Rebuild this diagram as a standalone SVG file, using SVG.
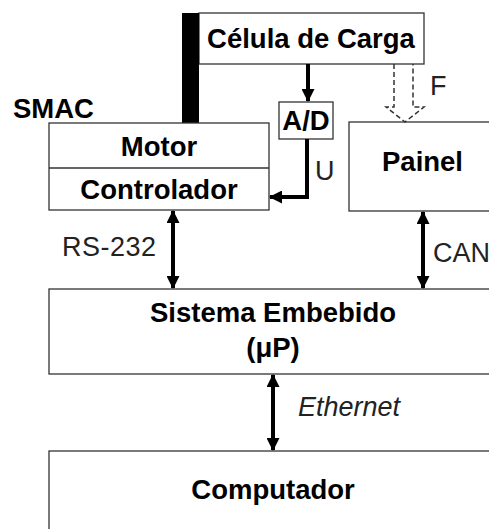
<svg xmlns="http://www.w3.org/2000/svg" width="489" height="529" viewBox="0 0 489 529">
<defs>
<style>
.box{fill:#fff;stroke:#333;stroke-width:1.3}
.b{font-family:"Liberation Sans",Arial,sans-serif;font-weight:bold;font-size:27.5px;fill:#000}
.l{font-family:"Liberation Sans",Arial,sans-serif;font-size:27px;fill:#222}
.c{stroke:#000;stroke-width:4;fill:none}
.d{stroke:#333;stroke-width:1.5;fill:none;stroke-dasharray:5,3}
</style>
<marker id="ah" viewBox="0 0 13 13" refX="12" refY="6.5" markerWidth="13" markerHeight="13" markerUnits="userSpaceOnUse" orient="auto-start-reverse">
<path d="M0,0 L13,6.5 L0,13 Z" fill="#000"/>
</marker>
</defs>
<rect width="489" height="529" fill="#fff"/>
<g id="celula">
<rect class="box" x="199" y="13" width="225" height="51"/>
<text class="b" x="311" y="48" text-anchor="middle">Célula de Carga</text>
</g>
<g id="bar">
<rect x="182" y="13" width="17" height="110" fill="#000"/>
</g>
<g id="smac-label">
<text class="b" x="13" y="118" font-size="26">SMAC</text>
</g>
<g id="motor">
<rect class="box" x="49" y="123" width="220" height="87"/>
<line x1="49" y1="168" x2="269" y2="168" stroke="#333" stroke-width="1.3"/>
<text class="b" x="159" y="156" text-anchor="middle">Motor</text>
<text class="b" x="159" y="199" text-anchor="middle">Controlador</text>
</g>
<g id="ad">
<rect class="box" x="279" y="102" width="54" height="37"/>
<text class="b" x="306" y="130" text-anchor="middle">A/D</text>
</g>
<g id="painel">
<rect class="box" x="349" y="122" width="150" height="89"/>
<text class="b" x="382" y="171">Painel</text>
</g>
<g id="sistema">
<rect class="box" x="49" y="289" width="450" height="85"/>
<text class="b" x="273" y="322" text-anchor="middle">Sistema Embebido</text>
<text class="b" x="273" y="357" text-anchor="middle">(μP)</text>
</g>
<g id="computador">
<rect class="box" x="49" y="451" width="450" height="90"/>
<text class="b" x="273" y="499" text-anchor="middle">Computador</text>
</g>
<g id="connectors">
<line class="c" x1="308" y1="64" x2="308" y2="101" marker-end="url(#ah)"/>
<polyline class="c" points="307,139 307,197 270,197" marker-end="url(#ah)"/>
<path class="d" d="M394,64 V107 H386 L405,122 L424,107 H413 V64"/>
<line class="c" x1="173" y1="211" x2="173" y2="288" marker-start="url(#ah)" marker-end="url(#ah)"/>
<line class="c" x1="423" y1="212" x2="423" y2="288" marker-start="url(#ah)" marker-end="url(#ah)"/>
<line class="c" x1="273" y1="375" x2="273" y2="450" marker-start="url(#ah)" marker-end="url(#ah)"/>
<text class="l" x="315" y="180">U</text>
<text class="l" x="430" y="95">F</text>
<text class="l" x="62" y="256" letter-spacing="0.5">RS-232</text>
<text class="l" x="433" y="262">CAN</text>
<text class="l" x="298" y="416" font-style="italic">Ethernet</text>
</g>
</svg>
